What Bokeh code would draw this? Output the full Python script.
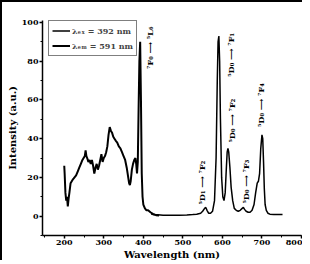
import math
from bokeh.plotting import figure
from bokeh.models import Legend, LegendItem, ColumnDataSource, Range1d, SingleIntervalTicker
from bokeh.core.properties import value
from bokeh.embed import file_html
from bokeh.resources import INLINE

# Excitation spectrum (monitored at 591 nm)
exc_wl = [200, 201, 203, 205, 207, 209, 211, 213, 216, 219, 222, 226, 230, 234, 238, 242, 246, 249,
          252, 254, 256, 258, 261, 264, 267, 270, 273, 276, 279, 282, 285, 288, 291, 294, 297, 300,
          303, 306, 309, 312, 315, 318, 321, 324, 327, 330, 334, 338, 342, 346, 350, 354, 358, 361,
          364, 366, 368, 371, 374, 377, 380, 382, 384, 386, 388, 390, 392, 394, 396, 398, 400, 404,
          408, 412, 418, 425, 432, 440]
exc_int = [26, 22, 12, 8, 10, 5, 9, 12, 17, 18, 19, 20, 21, 23, 25, 27, 29, 30,
           31, 34, 31, 30, 28, 29, 27, 29, 26, 22, 25, 27, 24, 26, 29, 32, 28, 30,
           31, 33, 36, 42, 46, 44, 43, 41, 40, 39, 38, 36, 35, 33, 31, 29, 25, 21,
           17, 16, 18, 24, 27, 29, 30, 27, 22, 28, 55, 80, 90, 60, 22, 10, 6, 4,
           3, 3, 2, 1, 0.5, 0.3]

# Emission spectrum (excited at 392 nm)
em_wl = [420, 430, 450, 470, 490, 510, 525, 535, 545, 550, 555, 558, 561, 565, 570, 575, 580, 584,
         587, 589, 591, 593, 595, 598, 601, 604, 607, 610, 612, 614, 616, 619, 622, 626, 630, 635,
         640, 645, 650, 653, 656, 660, 665, 670, 675, 680, 684, 688, 691, 694, 697, 700, 702, 704,
         706, 708, 711, 715, 720, 730, 740, 752]
em_int = [1, 0.8, 0.5, 0.4, 0.5, 0.6, 0.8, 1, 1.5, 2.5, 4, 4.5, 3, 1.5, 1.5, 2.5, 8, 30,
          70, 90, 93, 80, 50, 20, 10, 8, 12, 25, 33, 35, 33, 25, 15, 8, 4, 3,
          2.5, 3, 4, 4.5, 3.5, 2.5, 2, 2, 3, 6, 12, 17, 18, 22, 35, 42, 40, 28,
          14, 6, 3, 1.5, 1, 0.8, 0.8, 0.8]

legend_labels = ["λₑₓ = 392 nm", "λₑₘ = 591 nm"]

# Transition annotations
trans_text = ["⁷F₀ ⟶ ⁵L₆", "⁵D₀ ⟶ ⁷F₁", "⁵D₀ ⟶ ⁷F₂", "⁵D₀ ⟶ ⁷F₄", "⁵D₁ ⟶ ⁷F₂", "⁵D₀ ⟶ ⁷F₃"]
trans_x = [418, 621, 624, 698, 548, 660]
trans_y = [76, 72, 38, 46, 6, 6.5]

FONT = "DejaVu Serif"

p = figure(width=302, height=260, output_backend="svg", toolbar_location=None,
           x_range=Range1d(145, 800), y_range=Range1d(-10, 101),
           min_border_left=40, min_border_right=3, min_border_top=18, min_border_bottom=24)
p.styles = {"border-left": "2px solid black", "border-top": "2px solid black"}
p.outline_line_color = None
p.grid.visible = False
p.background_fill_color = "white"
p.border_fill_color = "white"

r_em = p.line(em_wl, em_int, line_color="black", line_width=1.5)
r_ex = p.line(exc_wl, exc_int, line_color="black", line_width=2)

src = ColumnDataSource(dict(x=trans_x, y=trans_y, t=trans_text))
p.text(x="x", y="y", text="t", source=src, angle=math.pi / 2, text_align="left",
       text_baseline="middle", text_font=value(FONT), text_font_style="bold",
       text_font_size="8px", text_color="black")

for ax in (p.xaxis[0], p.yaxis[0]):
    ax.axis_line_color = "black"
    ax.axis_line_width = 1.5
    ax.major_tick_line_width = 1.5
    ax.minor_tick_line_width = 1
    ax.major_tick_out = 3
    ax.major_tick_in = 0
    ax.minor_tick_out = 2
    ax.minor_tick_in = 0
    ax.major_label_text_font = FONT
    ax.major_label_text_font_style = "bold"
    ax.major_label_text_font_size = "8px"
    ax.major_label_text_color = "black"
    ax.axis_label_text_font = FONT
    ax.axis_label_text_font_style = "bold"
    ax.axis_label_text_font_size = "10px"
    ax.axis_label_text_color = "black"
    ax.major_label_standoff = 1
    ax.axis_label_standoff = 1

p.xaxis.ticker = SingleIntervalTicker(interval=100, num_minor_ticks=2)
p.yaxis.ticker = SingleIntervalTicker(interval=20, num_minor_ticks=2)
p.xaxis.axis_label = "Wavelength (nm)"
p.yaxis.axis_label = "Intensity (a.u.)"

legend = Legend(items=[LegendItem(label=legend_labels[0], renderers=[r_em]),
                       LegendItem(label=legend_labels[1], renderers=[r_ex])],
                location=(6, 179))
legend.border_line_color = "black"
legend.border_line_width = 1.5
legend.background_fill_alpha = 1
legend.label_text_font = FONT
legend.label_text_font_style = "bold"
legend.label_text_font_size = "8px"
legend.glyph_width = 18
legend.glyph_height = 13
legend.label_height = 13
legend.padding = 3
legend.spacing = 2
legend.margin = 0
legend.label_standoff = 2
p.add_layout(legend)

open("out.html", "w").write(file_html(p, INLINE))
